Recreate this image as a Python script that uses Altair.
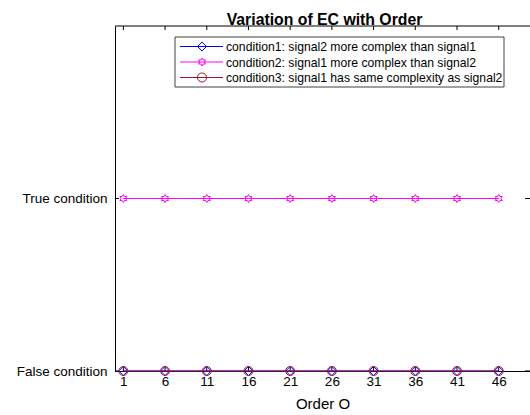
import altair as alt
import pandas as pd

# ---- data ----
orders = [1, 6, 11, 16, 21, 26, 31, 36, 41, 46]
cond1 = [0, 0, 0, 0, 0, 0, 0, 0, 0, 0]
cond2 = [1, 1, 1, 1, 1, 1, 1, 1, 1, 1]
cond3 = [0, 0, 0, 0, 0, 0, 0, 0, 0, 0]
series_names = [
    "condition1: signal2 more complex than signal1",
    "condition2: signal1 more complex than signal2",
    "condition3: signal1 has same complexity as signal2",
]
x_tick_values = [1, 6, 11, 16, 21, 26, 31, 36, 41, 46]
y_tick_values = [0, 1]
y_tick_labels = ["False condition", "True condition"]
chart_title = "Variation of EC with Order"

# ---- styling ----
FONT = "Liberation Sans"
W, H = 415, 345
colors = ["#0000ff", "#ff00ff", "#a2142f"]
HEXAGRAM = ("M0,-1L0.289,-0.5L0.866,-0.5L0.577,0L0.866,0.5L0.289,0.5L0,1"
            "L-0.289,0.5L-0.866,0.5L-0.577,0L-0.866,-0.5L-0.289,-0.5Z")
shapes = ["diamond", HEXAGRAM, "circle"]
sizes = [81, 64, 81]
values = [cond1, cond2, cond3]

xscale = alt.Scale(domain=[0, 49.75], nice=False, zero=False)
yscale = alt.Scale(domain=[0, 2], nice=False, zero=False)

label_expr = " : ".join(
    f"datum.value == {v} ? '{t}'" for v, t in zip(y_tick_values[:-1], y_tick_labels[:-1])
) + f" : '{y_tick_labels[-1]}'"

axis_common = dict(labelFont=FONT, labelFontSize=13.5, labelColor="black",
                   titleFont=FONT, titleFontSize=15, titleFontWeight="normal",
                   titleColor="black", domainColor="black", domainWidth=1,
                   ticks=False, tickSize=0, grid=False)
xaxis = alt.Axis(values=x_tick_values, format="d", title="Order O", labelPadding=3,
                 titlePadding=9, labelFlush=False, labelOverlap=False, **axis_common)
yaxis = alt.Axis(values=y_tick_values, labelExpr=label_expr, title=None,
                 labelPadding=8, **axis_common)

layers = []

# box top border and inward ticks
tickx_df = pd.DataFrame({"x": x_tick_values})
ticky_df = pd.DataFrame({"y": y_tick_values})
layers.append(alt.Chart(pd.DataFrame({"a": [0]})).mark_rule(color="black", strokeWidth=1).encode(
    x=alt.value(0), x2=alt.value(W), y=alt.value(0)))
layers.append(alt.Chart(tickx_df).mark_rule(color="black", strokeWidth=1).encode(
    x=alt.X("x:Q", scale=xscale, axis=xaxis), y=alt.value(0), y2=alt.value(4)))
layers.append(alt.Chart(tickx_df).mark_rule(color="black", strokeWidth=1).encode(
    x=alt.X("x:Q", scale=xscale), y=alt.value(H - 4), y2=alt.value(H)))
layers.append(alt.Chart(ticky_df).mark_rule(color="black", strokeWidth=1).encode(
    y=alt.Y("y:Q", scale=yscale, axis=yaxis), x=alt.value(0), x2=alt.value(4)))
layers.append(alt.Chart(ticky_df).mark_rule(color="black", strokeWidth=1).encode(
    y=alt.Y("y:Q", scale=yscale), x=alt.value(W - 5), x2=alt.value(W)))

# title as a text mark (MATLAB-style placement just above the box)
layers.append(alt.Chart(pd.DataFrame({"t": [chart_title]})).mark_text(
    align="center", baseline="alphabetic", font=FONT, fontSize=15.8,
    fontWeight="bold", color="black").encode(
    x=alt.value(209.5), y=alt.value(-1.5), text="t:N"))

# data series
for name, vals, col, shp, sz in zip(series_names, values, colors, shapes, sizes):
    df = pd.DataFrame({"order": orders, "value": vals})
    base = alt.Chart(df).encode(
        x=alt.X("order:Q", scale=xscale),
        y=alt.Y("value:Q", scale=yscale),
    )
    layers.append(base.mark_line(color=col, strokeWidth=1))
    layers.append(base.mark_point(shape=shp, size=sz, filled=False, color=col,
                                  strokeWidth=1, opacity=1))

# legend (drawn manually, MATLAB style)
LX0, LX1, LY0, LY1 = 60, 389, 11, 61
row_y = [20.5, 36, 51.5]
layers.append(alt.Chart(pd.DataFrame({"a": [0]})).mark_rect(
    fill="white", stroke="#404040", strokeWidth=1).encode(
    x=alt.value(LX0), x2=alt.value(LX1), y=alt.value(LY0), y2=alt.value(LY1)))
for name, col, shp, sz, ry in zip(series_names, colors, shapes, sizes, row_y):
    ldf = pd.DataFrame({"label": [name]})
    lb = alt.Chart(ldf)
    layers.append(lb.mark_rule(color=col, strokeWidth=1).encode(
        x=alt.value(65), x2=alt.value(108), y=alt.value(ry)))
    layers.append(lb.mark_point(shape=shp, size=sz, filled=False, color=col,
                                strokeWidth=1, opacity=1).encode(
        x=alt.value(87), y=alt.value(ry)))
    layers.append(lb.mark_text(align="left", baseline="middle", font=FONT,
                               fontSize=12.2, color="black").encode(
        x=alt.value(111), y=alt.value(ry + 0.5), text="label:N"))

chart = alt.layer(*layers).properties(
    width=W, height=H,
    background="white",
    padding={"left": 115, "top": 26, "right": 0, "bottom": 44},
    autosize=alt.AutoSizeParams(type="none"),
).configure_view(strokeWidth=0)

chart.save("out.html", embed_options={"renderer": "svg", "actions": False})
